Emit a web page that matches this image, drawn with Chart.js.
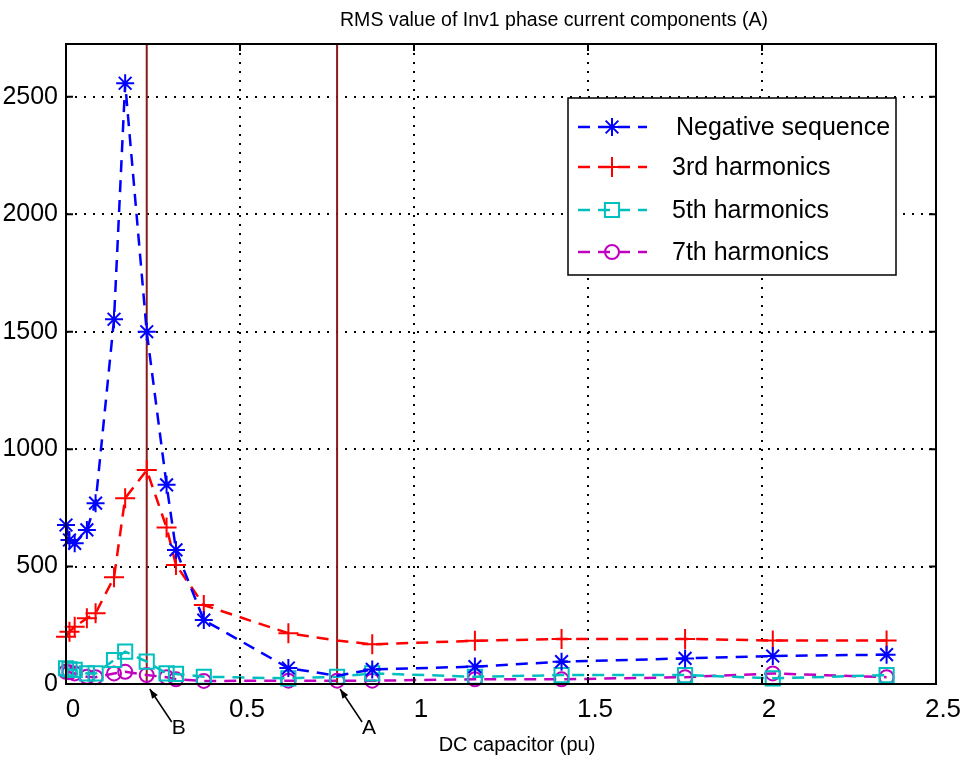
<!DOCTYPE html>
<html>
<head>
<meta charset="utf-8">
<script src="https://cdn.jsdelivr.net/npm/chart.js@4"></script>
<style>
  html, body { margin: 0; padding: 0; background: #fff; }
  #wrap { width: 970px; height: 760px; }
</style>
</head>
<body>
<div id="wrap"><canvas id="graph"></canvas></div>
<script>
// DC capacitor values (pu) at which the currents were computed
var capValues = [0, 0.01, 0.025, 0.06, 0.085, 0.138, 0.17, 0.232, 0.289, 0.316, 0.396, 0.639, 0.779, 0.88, 1.175, 1.424, 1.779, 2.031, 2.358]
var negSequence = [677, 613, 599, 656, 770, 1553, 2558, 1500, 848, 571, 272, 68, 35, 62, 74, 95, 109, 119, 125]
var harm3 = [201, 222, 244, 280, 301, 454, 791, 911, 666, 507, 336, 216, 185, 169, 184, 192, 192, 185, 185]
var harm5 = [67, 62, 60, 45, 45, 102, 138, 95, 45, 43, 31, 24, 31, 45, 31, 38, 38, 24, 38]
var harm7 = [52, 50, 45, 31, 29, 45, 52, 38, 29, 20, 13, 14, 14, 14, 20, 20, 29, 45, 29]
var seriesNames = ["Negative sequence", "3rd harmonics", "5th harmonics", "7th harmonics"]

var xTicks = [0, 0.5, 1, 1.5, 2, 2.5]
var yTicks = [0, 500, 1000, 1500, 2000, 2500]
var markB = 0.232
var markA = 0.779
var yTop = 2725

const toPoints = (vals) => vals.map((v, i) => ({x: capValues[i], y: v}))
// marker hidden at point A for the two upper curves
const hideAtA = (r) => capValues.map((c) => c == markA ? 0 : r)

var axisFont = "'Liberation Sans', Arial, sans-serif"

// text squeezed to a given width (the original uses a condensed face)
function fitText(ctx, text, cx, cy, width) {
    let w = ctx.measureText(text).width
    ctx.save()
    ctx.translate(cx, cy)
    ctx.scale(Math.min(1, width / w), 1)
    ctx.fillText(text, 0, 0)
    ctx.restore()
}

const extras = {
    id: "extras",
    afterDraw(chart) {
        const ctx = chart.ctx
        const area = chart.chartArea
        const xs = chart.scales.x
        const ys = chart.scales.y
        ctx.save()

        // inward ticks
        ctx.strokeStyle = "black"
        ctx.lineWidth = 2
        ctx.beginPath()
        yTicks.forEach((v) => {
            let py = ys.getPixelForValue(v)
            ctx.moveTo(area.left, py); ctx.lineTo(area.left + 7, py)
            ctx.moveTo(area.right, py); ctx.lineTo(area.right - 7, py)
        })
        xTicks.forEach((v) => {
            let px = xs.getPixelForValue(v)
            ctx.moveTo(px, area.bottom); ctx.lineTo(px, area.bottom - 7)
            ctx.moveTo(px, area.top); ctx.lineTo(px, area.top + 7)
        })
        ctx.stroke()

        // frame
        ctx.lineWidth = 2
        ctx.strokeRect(area.left, area.top, area.right - area.left, area.bottom - area.top)

        // title and x label
        ctx.fillStyle = "black"
        ctx.textAlign = "center"
        ctx.textBaseline = "middle"
        ctx.font = "20px " + axisFont
        fitText(ctx, "RMS value of Inv1 phase current components (A)", 554, 20, 428)
        ctx.font = "20px " + axisFont
        fitText(ctx, "DC capacitor (pu)", 517, 745, 160)

        // arrows to B and A
        ctx.font = "21px " + axisFont
        ;[[markB, "B"], [markA, "A"]].forEach((m) => {
            let tipX = xs.getPixelForValue(m[0]) + 3
            let tipY = area.bottom + 5
            let tailX = tipX + 22
            let tailY = area.bottom + 38
            ctx.lineWidth = 1.5
            ctx.beginPath()
            ctx.moveTo(tailX, tailY); ctx.lineTo(tipX, tipY)
            ctx.stroke()
            let ang = Math.atan2(tipY - tailY, tipX - tailX)
            ctx.beginPath()
            ctx.moveTo(tipX, tipY)
            ctx.lineTo(tipX - 10 * Math.cos(ang - 0.35), tipY - 10 * Math.sin(ang - 0.35))
            ctx.lineTo(tipX - 10 * Math.cos(ang + 0.35), tipY - 10 * Math.sin(ang + 0.35))
            ctx.closePath()
            ctx.fill()
            ctx.fillText(m[1], tailX + 7, tailY + 6)
        })

        // legend box
        let lx = 568, ly = 98, lw = 328, lh = 177
        ctx.fillStyle = "white"
        ctx.fillRect(lx, ly, lw, lh)
        ctx.strokeStyle = "black"
        ctx.lineWidth = 1.5
        ctx.strokeRect(lx, ly, lw, lh)
        let rowsY = [127, 167, 210, 252]
        ctx.font = "25px " + axisFont
        ctx.textAlign = "left"
        for (let i = 0; i < 4; i++) {
            let ds = chart.data.datasets[i]
            let y = rowsY[i]
            ctx.strokeStyle = ds.borderColor
            ctx.lineWidth = ds.borderWidth
            ctx.setLineDash(ds.borderDash)
            ctx.beginPath()
            ctx.moveTo(578, y); ctx.lineTo(647, y)
            ctx.stroke()
            ctx.setLineDash([])
            ctx.lineWidth = ds.pointBorderWidth
            ctx.fillStyle = "rgba(0,0,0,0)"
            let r = Array.isArray(ds.pointRadius) ? Math.max(...ds.pointRadius) : ds.pointRadius
            Chart.helpers.drawPoint(ctx, {pointStyle: ds.pointStyle, radius: r, rotation: 0, borderWidth: ds.pointBorderWidth}, 612, y)
            ctx.fillStyle = "black"
            ctx.fillText(seriesNames[i], i == 0 ? 676 : 672, y + 1)
        }
        ctx.restore()
    }
}

const seriesSet = (vals, color, style, radius) => ({
    label: "",
    data: toPoints(vals),
    borderColor: color,
    borderWidth: 2.5,
    borderDash: [12, 8],
    pointStyle: style,
    pointRadius: radius,
    pointBorderColor: color,
    pointBackgroundColor: "rgba(0,0,0,0)",
    pointBorderWidth: 2,
    tension: 0,
    clip: false
})

const markerLine = (xv) => ({
    label: "",
    data: [{x: xv, y: 0}, {x: xv, y: yTop}],
    borderColor: "#8b1a1a",
    borderWidth: 2,
    pointRadius: 0
})

var chartCurrents = new Chart(document.getElementById("graph").getContext("2d"), {
    type: "line",
    data: {
        datasets: [
            seriesSet(negSequence, "#0000ff", "star", hideAtA(9)),
            seriesSet(harm3, "#ff0000", "cross", hideAtA(10)),
            seriesSet(harm5, "#00bfbf", "rect", 10),
            seriesSet(harm7, "#bf00bf", "circle", 7),
            markerLine(markB),
            markerLine(markA)
        ]
    },
    options: {
        responsive: true,
        maintainAspectRatio: false,
        animation: false,
        layout: { padding: { top: 44, right: 34, left: 0, bottom: 0 } },
        plugins: {
            legend: { display: false },
            title: { display: false },
            tooltip: { enabled: false }
        },
        scales: {
            x: {
                type: "linear",
                min: 0,
                max: 2.5,
                afterFit: (s) => { s.height = 76 },
                afterBuildTicks: (s) => { s.ticks = xTicks.map((v) => ({value: v})) },
                grid: { color: "black", lineWidth: 2, drawTicks: false },
                border: { display: false, dash: [2, 7] },
                ticks: {
                    color: "black",
                    font: { family: axisFont, size: 26 },
                    padding: 10,
                    labelOffset: 7,
                    maxRotation: 0,
                    callback: (v) => String(v)
                }
            },
            y: {
                type: "linear",
                min: 0,
                max: yTop,
                afterFit: (s) => { s.width = 66 },
                afterBuildTicks: (s) => { s.ticks = yTicks.map((v) => ({value: v})) },
                grid: { color: "black", lineWidth: 2, drawTicks: false },
                border: { display: false, dash: [2, 7] },
                ticks: {
                    color: "black",
                    font: { family: axisFont, size: 25 },
                    padding: 8,
                    callback: (v) => String(v)
                }
            }
        }
    },
    plugins: [extras]
})
</script>
</body>
</html>
